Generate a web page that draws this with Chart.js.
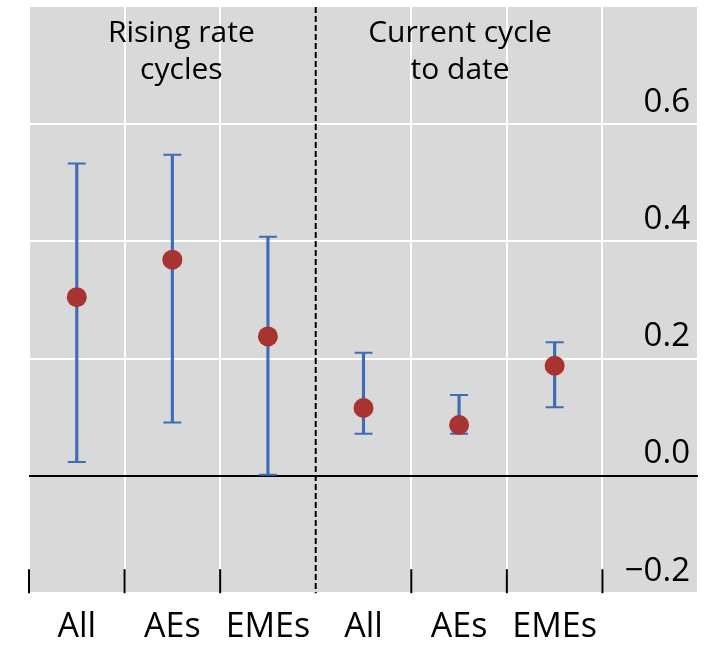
<!DOCTYPE html>
<html>
<head>
<meta charset="utf-8">
<script src="https://cdn.jsdelivr.net/npm/chart.js@4.4.0/dist/chart.umd.min.js"></script>
<style>
  html, body { margin: 0; padding: 0; background: #fff; }
</style>
</head>
<body>
<canvas id="chart" width="718" height="646"></canvas>
<script>
// categories along the bottom; the last slot only holds the y labels
const categories = ['All', 'AEs', 'EMEs', 'All', 'AEs', 'EMEs', ''];
// point estimates and the ends of the error bars
const centre = [0.305, 0.369, 0.238, 0.116, 0.087, 0.188];
const upper  = [0.533, 0.548, 0.408, 0.210, 0.138, 0.228];
const lower  = [0.024, 0.091, 0.002, 0.072, 0.072, 0.117];
const yTicks = [-0.2, 0, 0.2, 0.4, 0.6, 0.8];
// group headings, placed over a category (nudge in px)
const groupNotes = [
  { at: 1, nudge: 9, lines: ['Rising rate', 'cycles'] },
  { at: 4, nudge: 1, lines: ['Current cycle', 'to date'] }
];
const dividerAfter = 2; // dashed line after the 3rd category

const FONT = "'Open Sans', 'Noto Sans', sans-serif";
const BLUE = '#3d6db5';
const RED = '#a83330';
const isTop = c => c.tick && c.tick.value > 0.7;

const panel = {
  id: 'panel',
  beforeDraw(chart) {
    const { ctx, chartArea: a } = chart;
    ctx.save();
    ctx.fillStyle = '#d9d9d9';
    ctx.fillRect(a.left, a.top, a.right - a.left, a.bottom - a.top);
    ctx.restore();
  },
  beforeDatasetsDraw(chart) {
    const { ctx, chartArea: a, scales: { x } } = chart;
    ctx.save();
    ctx.strokeStyle = '#000';
    ctx.lineWidth = 2;
    // divider between the two groups
    const dx = x.getPixelForValue(dividerAfter + 0.5);
    ctx.setLineDash([6, 3]);
    ctx.beginPath(); ctx.moveTo(dx, a.top); ctx.lineTo(dx, a.bottom); ctx.stroke();
    ctx.setLineDash([]);
    // short tick marks on the bottom edge
    for (let i = 0; i < categories.length; i++) {
      if (i === dividerAfter + 1) continue;
      const tx = x.getPixelForValue(i - 0.5);
      ctx.beginPath(); ctx.moveTo(tx, a.bottom); ctx.lineTo(tx, a.bottom - 24); ctx.stroke();
    }
    // headings
    ctx.fillStyle = '#000';
    ctx.font = '30px ' + FONT;
    ctx.textAlign = 'center';
    ctx.textBaseline = 'alphabetic';
    groupNotes.forEach(n => {
      n.lines.forEach((t, k) => ctx.fillText(t, x.getPixelForValue(n.at) + n.nudge, a.top + 35 + k * 37));
    });
    ctx.restore();
  }
};

new Chart(document.getElementById('chart'), {
  type: 'bar',
  data: {
    labels: categories,
    datasets: [
      {
        type: 'line', data: centre, showLine: false, order: 0,
        pointRadius: 10, pointHoverRadius: 10, pointBackgroundColor: RED, pointBorderWidth: 0
      },
      {
        type: 'line', data: upper, showLine: false, order: 1,
        pointStyle: 'line', pointRadius: 9, pointHoverRadius: 9, pointBorderColor: BLUE, pointBorderWidth: 2
      },
      {
        type: 'line', data: lower, showLine: false, order: 1,
        pointStyle: 'line', pointRadius: 9, pointHoverRadius: 9, pointBorderColor: BLUE, pointBorderWidth: 2
      },
      {
        type: 'bar', data: lower.map((l, i) => [l, upper[i]]), order: 2,
        backgroundColor: BLUE, barThickness: 2.5, grouped: false, borderWidth: 0
      }
    ]
  },
  options: {
    responsive: false,
    animation: false,
    // points would otherwise add their radius as extra padding round the chart area
    layout: { autoPadding: false, padding: { left: 29, top: 7, right: 20, bottom: -16 } },
    plugins: { legend: { display: false }, tooltip: { enabled: false } },
    scales: {
      x: {
        type: 'category', offset: true,
        grid: {
          offset: true, drawTicks: false, lineWidth: 2,
          color: c => c.index === dividerAfter + 1 ? 'rgba(0,0,0,0)' : '#fff'
        },
        border: { display: false },
        ticks: { color: '#000', font: { family: FONT, size: 34 }, padding: 14, autoSkip: false, maxRotation: 0 }
      },
      y: {
        position: 'right', min: -0.2, max: 0.8,
        afterBuildTicks: s => { s.ticks = yTicks.map(v => ({ value: v })); },
        grid: {
          drawTicks: false, lineWidth: 2,
          color: c => isTop(c) ? 'rgba(0,0,0,0)' : (c.tick && Math.abs(c.tick.value) < 1e-9) ? '#000' : '#fff'
        },
        border: { display: false },
        ticks: {
          mirror: true, padding: -8, labelOffset: -22, color: '#000',
          font: c => ({ family: FONT, size: isTop(c) ? 1 : 33 }),
          callback: v => v > 0.7 ? '' : (v < 0 ? '\u2212' : '') + Math.abs(v).toFixed(1)
        }
      }
    }
  },
  plugins: [panel]
});
</script>
</body>
</html>
